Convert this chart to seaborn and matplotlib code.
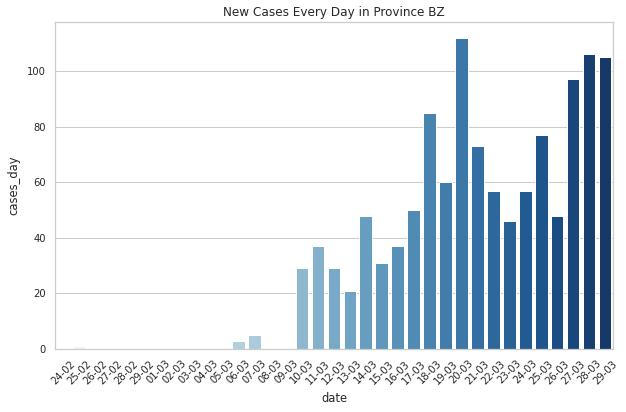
import matplotlib
matplotlib.use("Agg")
import matplotlib.pyplot as plt
import pandas as pd
import seaborn as sns

dates = ['24-02', '25-02', '26-02', '27-02', '28-02', '29-02',
         '01-03', '02-03', '03-03', '04-03', '05-03', '06-03', '07-03', '08-03', '09-03',
         '10-03', '11-03', '12-03', '13-03', '14-03', '15-03', '16-03', '17-03', '18-03',
         '19-03', '20-03', '21-03', '22-03', '23-03', '24-03', '25-03', '26-03', '27-03',
         '28-03', '29-03']
cases_day = [0, 1, 0, 0, 0, 0,
             0, 0, 0, 0, 0, 3, 5, 0, 0,
             29, 37, 29, 21, 48, 31, 37, 50, 85,
             60, 112, 73, 57, 46, 57, 77, 48, 97,
             106, 105]

df = pd.DataFrame({'date': dates, 'cases_day': cases_day})

sns.set_theme(style="whitegrid", rc={
    'axes.titlesize': 12,
    'axes.labelsize': 11.5,
    'axes.labelpad': 6,
    'xtick.labelsize': 10,
    'ytick.labelsize': 10,
})

fig, ax = plt.subplots(figsize=(626 / 72, 412 / 72), dpi=72)
sns.barplot(data=df, x='date', y='cases_day', hue='date', palette='Blues',
            legend=False, ax=ax)
ax.set_title('New Cases Every Day in Province BZ')
plt.xticks(rotation=45)
plt.subplots_adjust(left=0.088, right=0.979, top=0.946, bottom=0.153)
plt.savefig('out.png', dpi=72)
